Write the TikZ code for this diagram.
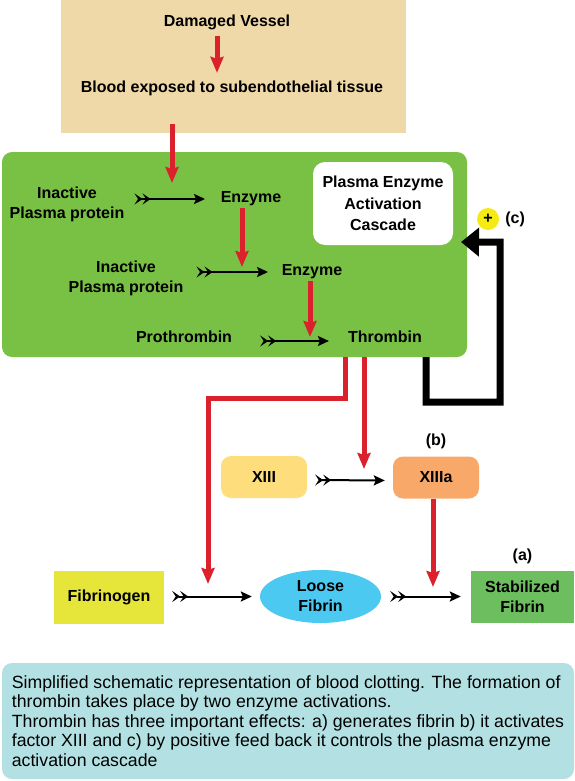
\documentclass[tikz,border=0pt]{standalone}
\usepackage{fontspec}
\setmainfont{Liberation Sans}
\usetikzlibrary{arrows.meta,shapes.geometric}
\definecolor{tanbg}{RGB}{240,217,168}
\definecolor{grnbg}{RGB}{121,193,68}
\definecolor{actred}{RGB}{218,33,44}
\definecolor{plusyel}{RGB}{246,234,20}
\definecolor{x13col}{RGB}{253,221,124}
\definecolor{x13acol}{RGB}{248,169,106}
\definecolor{fibcol}{RGB}{229,229,58}
\definecolor{lfcol}{RGB}{76,201,240}
\definecolor{stabcol}{RGB}{109,190,94}
\definecolor{capcol}{RGB}{179,225,227}
\begin{document}
\begin{tikzpicture}
    [
    x=1pt,y=-1pt,
    lbl/.style={font=\fontsize{16}{20}\selectfont\bfseries,inner sep=2pt,align=center},
    box/.style={lbl,minimum width=86pt,minimum height=42pt,rounded corners=10pt},
    conv/.style={line width=2pt,{Stealth[reversed,length=8pt,width=11pt,inset=3.5pt]Stealth[reversed,length=8pt,width=11pt,inset=3.5pt]}-{Stealth[length=11pt,width=10pt,inset=2pt]}},
    act/.style={draw=actred,line width=5pt,-{Stealth[length=16pt,width=13pt,inset=2pt]}},
    fb/.style={line width=7pt,-{Triangle[length=18pt,width=28pt]}},
    ]
    \useasboundingbox (0,0) rectangle (575,781);
    % damaged vessel
    \node (tan) at (233.5,66.5) [fill=tanbg,inner sep=0pt,minimum width=345pt,minimum height=133pt] {};
    \node (dv) at (227,22) [lbl] {Damaged Vessel};
    \node (bl) at (232,88) [lbl] {Blood exposed to subendothelial tissue};
    % cascade
    \node (grn) at (234.5,254.5) [fill=grnbg,rounded corners=10pt,minimum width=465pt,minimum height=205pt] {};
    \node (pec) at (383,203.5) [lbl,font=\fontsize{16}{21.5}\selectfont\bfseries,fill=white,rounded corners=12pt,minimum width=140pt,minimum height=83pt] {Plasma Enzyme\\Activation\\Cascade};
    \node (in1) at (67,204) [lbl] {Inactive\\Plasma protein};
    \node (enz1) at (251,199) [lbl] {Enzyme};
    \node (in2) at (126,278) [lbl] {Inactive\\Plasma protein};
    \node (enz2) at (312,272) [lbl] {Enzyme};
    \node (pro) at (184,337) [lbl] {Prothrombin};
    \node (thr) at (385,337) [lbl] {Thrombin};
    \node (plus) at (488,219) [lbl,circle,fill=plusyel,inner sep=0pt,minimum size=22pt,label={[lbl,label distance=4pt]right:(c)}] {+};
    % factor XIII and fibrin
    \node (x13) at (264,477) [box,fill=x13col] {XIII};
    \node (x13a) at (436,477.5) [box,fill=x13acol,label={[lbl,label distance=5pt]above:(b)}] {XIIIa};
    \node (fib) at (109,597.5) [lbl,fill=fibcol,minimum width=110pt,minimum height=53pt] {Fibrinogen};
    \node (lf) at (320.5,596.5) [lbl,ellipse,fill=lfcol,inner sep=0pt,minimum width=121pt,minimum height=53pt] {Loose\\Fibrin};
    \node (stab) at (522.5,597) [lbl,fill=stabcol,minimum width=103pt,minimum height=52pt,label={[lbl,label distance=5pt]above:(a)}] {Stabilized\\Fibrin};
    \node (cap) at (288,721) [fill=capcol,rounded corners=10pt,minimum width=572pt,minimum height=116pt,align=left,font=\fontsize{17.7}{19.6}\selectfont] {Simplified schematic representation of blood clotting. The formation of\\thrombin takes place by two enzyme activations.\\Thrombin has three important effects: a) generates fibrin b) it activates\\factor XIII and c) by positive feed back it controls the plasma enzyme\\activation cascade};
    % points where the red arrows end
    \coordinate (j1) at (172,183);
    \coordinate (j2) at (242,267);
    \coordinate (j3) at (310,337);
    \coordinate (j4) at (208,584);
    \coordinate (j5) at (364,469);
    \coordinate (j6) at (433,587);
    \coordinate (jc) at (461,242);
    \coordinate (t1) at ([xshift=-40pt]thr.south);
    \coordinate (t2) at ([xshift=-21pt]thr.south);
    \coordinate (t3) at ([xshift=41pt]thr.south);
    % conversions
    \draw [conv,shorten <=8pt,shorten >=13.5pt] (in1.east |- enz1.west) to (enz1.west);
    \draw [conv,shorten <=11pt,shorten >=11.5pt] (in2.east |- enz2.west) to (enz2.west);
    \draw [conv,shorten <=26pt,shorten >=17pt] ([yshift=-4pt]pro.east) to ([yshift=-4pt]thr.west);
    \draw [conv,shorten <=8pt,shorten >=8pt] ([yshift=-3pt]x13.east) to ([yshift=-3pt]x13a.west);
    \draw [conv,shorten <=8pt,shorten >=8pt] (fib.east |- lf.west) to (lf.west);
    \draw [conv,shorten <=9pt,shorten >=10pt] (lf.east) to (stab.west |- lf.east);
    % activations
    \draw [act,shorten <=4.5pt,shorten >=5.5pt] ([xshift=-10pt]dv.south) to ([xshift=-15pt]bl.north);
    \draw [act] (j1 |- tan.south) ++(0,-9) -- (j1);
    \draw [act] (enz1.south -| j2) -- (j2);
    \draw [act] (enz2.south -| j3) -- (j3);
    \draw [act] (t1 |- grn.south) -- ++(0,41) -| (j4);
    \draw [act] (t2 |- grn.south) -- (j5);
    \draw [act] (x13a.south -| j6) -- (j6);
    % feedback
    \draw [fb] (t3 |- grn.south) -- ++(0,45) -| ++(74,-160) -- (jc);
  \end{tikzpicture}
\end{document}
